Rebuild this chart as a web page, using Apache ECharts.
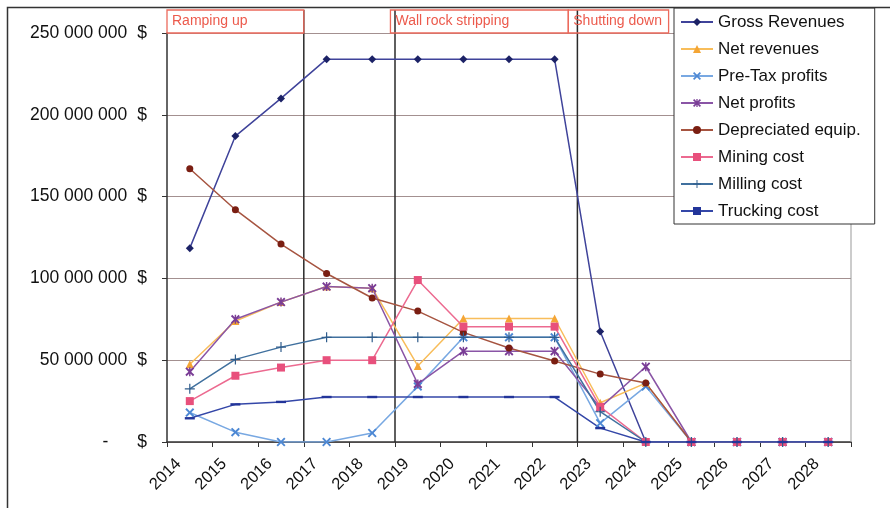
<!DOCTYPE html>
<html>
<head>
<meta charset="utf-8">
<script src="https://cdn.jsdelivr.net/npm/echarts@6/dist/echarts.min.js"></script>
<style>html,body{margin:0;padding:0;background:#fff;}#c{width:890px;height:508px;}</style>
</head>
<body>
<div id="c"></div>
<script>
var years = ['2014','2015','2016','2017','2018','2019','2020','2021','2022','2023','2024','2025','2026','2027','2028'];
var grossRevenues = [118500000,187000000,210000000,234000000,234000000,234000000,234000000,234000000,234000000,67500000,0,0,0,0,0];
var netRevenues   = [47500000,74000000,85500000,95000000,94000000,46500000,75500000,75500000,75500000,24000000,36000000,0,0,0,0];
var preTaxProfits = [18000000,6000000,0,0,5500000,34000000,64000000,64000000,64000000,11500000,34000000,0,0,0,0];
var netProfits    = [43000000,75000000,85500000,95000000,94000000,35500000,55500000,55500000,55500000,21000000,46000000,0,0,0,0];
var depreciatedEquip = [167000000,142000000,121000000,103000000,88000000,80000000,67000000,57500000,49500000,41500000,36000000,0,0,0,0];
var miningCost    = [25000000,40500000,45500000,50000000,50000000,99000000,70500000,70500000,70500000,21500000,0,0,0,0,0];
var millingCost   = [32500000,50500000,58000000,64000000,64000000,64000000,64000000,64000000,64000000,18500000,0,0,0,0,0];
var truckingCost  = [14500000,23000000,24500000,27500000,27500000,27500000,27500000,27500000,27500000,8500000,0,0,0,0,0];
var yTicks = [0,50000000,100000000,150000000,200000000,250000000];
var phaseLabels = ['Ramping up','Wall rock stripping','Shutting down'];
var phaseBoxStart = [0, 4.9, 8.8];
var phaseBoxEnd   = [3, 8.8, 11];
var phaseLines = [3, 5, 9];

var FONT = '"Liberation Sans", Arial, sans-serif';
var SYM_X = 'path://M0,1.5L1.5,0L5,3.5L8.5,0L10,1.5L6.5,5L10,8.5L8.5,10L5,6.5L1.5,10L0,8.5L3.5,5Z';
var SYM_STAR = 'path://M0,1.5L1.5,0L4.2,2.7V0H5.8V2.7L8.5,0L10,1.5L6.5,5L10,8.5L8.5,10L5.8,7.3V10H4.2V7.3L1.5,10L0,8.5L3.5,5Z';
var SYM_PLUS = 'path://M4.4,0H5.6V4.4H10V5.6H5.6V10H4.4V5.6H0V4.4H4.4Z';
var SYM_DASH = 'path://M0,0H10V2.4H0Z';

function fmtNum(v){
  var s = String(Math.round(v));
  return s.replace(/\B(?=(\d{3})+(?!\d))/g, ' ');
}

function mk(name, data, symbol, size, markColor, lineColor){
  return {
    name: name, type: 'line', data: data, symbol: symbol, symbolSize: size,
    symbolKeepAspect: true,
    showAllSymbol: true, z: 3,
    itemStyle: { color: markColor, borderWidth: 0 },
    lineStyle: { color: lineColor, width: 1.5 },
    emphasis: { disabled: true }
  };
}

var chart = echarts.init(document.getElementById('c'), null, {renderer: 'canvas'});
var option = {
  backgroundColor: '#fff',
  animation: false,
  textStyle: { fontFamily: FONT },
  grid: { left: 167, right: 39, top: 33, bottom: 66, containLabel: false },
  graphic: [{
    type: 'rect', z: 100, silent: true,
    shape: { x: 7.5, y: 7.5, width: 900, height: 600 },
    style: { fill: 'none', stroke: '#333', lineWidth: 1.5 }
  }],
  legend: {
    orient: 'vertical', left: 674, top: 8,
    data: ['Gross Revenues','Net revenues','Pre-Tax profits','Net profits','Depreciated equip.','Mining cost','Milling cost','Trucking cost'],
    backgroundColor: '#fff', borderColor: '#333', borderWidth: 1,
    padding: [5, 14, 4, 6], itemGap: 9, itemWidth: 32, itemHeight: 10,
    textStyle: { fontSize: 17, color: '#111', fontFamily: FONT, lineHeight: 18 },
    selectedMode: false
  },
  xAxis: {
    type: 'category', data: years, boundaryGap: true,
    axisLine: { lineStyle: { color: '#333', width: 1.5 } },
    axisTick: { show: true, length: 5, lineStyle: { color: '#333' } },
    axisLabel: { interval: 0, rotate: 45, fontSize: 16.5, color: '#111', margin: 8, padding: [0, 16, 0, 0], fontFamily: FONT },
    splitLine: { show: false }
  },
  yAxis: {
    type: 'value', min: 0, max: 250000000, interval: 50000000,
    axisLine: { show: true, lineStyle: { color: '#333', width: 1.5 } },
    axisTick: { show: true, length: 5, lineStyle: { color: '#333' } },
    splitLine: { show: true, lineStyle: { color: '#a39090', width: 1.2 } },
    axisLabel: {
      margin: 20, fontSize: 17.5, color: '#111', fontFamily: FONT,
      formatter: function(v){
        if (v === 0) return '{z|-}{d|$}';
        return '{n|' + fmtNum(v) + '}{d|$}';
      },
      rich: {
        n: { fontSize: 17.5, color: '#111', fontFamily: FONT },
        z: { fontSize: 17.5, color: '#111', fontFamily: FONT, padding: [0, 19, 0, 0] },
        d: { fontSize: 17.5, color: '#111', fontFamily: FONT, padding: [0, 0, 0, 10] }
      }
    }
  },
  series: [
    {
      type: 'custom', name: 'phases', z: 1, silent: true, clip: false,
      data: [[0, 0]],
      renderItem: function(params, api){
        var bw = api.size([1, 0])[0];
        var x0 = api.coord([0, 0])[0] - bw / 2;
        var yZero = api.coord([0, 0])[1];
        var yTop = api.coord([0, 250000000])[1];
        var boxH = 23;
        var children = [];
        for (var i = 0; i < phaseLines.length; i++) {
          var x = x0 + phaseLines[i] * bw;
          children.push({ type: 'line', shape: { x1: x, y1: yTop - boxH, x2: x, y2: yZero },
            style: { stroke: '#2a2a2a', lineWidth: 1.5 } });
        }
        var xr = x0 + years.length * bw;
        children.push({ type: 'line', shape: { x1: xr, y1: yTop, x2: xr, y2: yZero },
          style: { stroke: '#999', lineWidth: 1 } });
        for (var j = 0; j < phaseLabels.length; j++) {
          var bx = x0 + phaseBoxStart[j] * bw;
          var ex = x0 + phaseBoxEnd[j] * bw;
          children.push({ type: 'rect', shape: { x: bx, y: yTop - boxH, width: ex - bx, height: boxH },
            style: { fill: 'rgba(255,255,255,0)', stroke: '#ec6a5c', lineWidth: 1.3 } });
          children.push({ type: 'text', style: { text: phaseLabels[j], x: bx + 5, y: yTop - boxH / 2,
            verticalAlign: 'middle', align: 'left', fill: '#ec5a4c', font: '14px ' + FONT } });
        }
        return { type: 'group', children: children };
      }
    },
    mk('Gross Revenues', grossRevenues, 'diamond', 8, '#1c2266', '#3f439a'),
    mk('Net revenues', netRevenues, 'triangle', 8, '#f4a535', '#f8bd5a'),
    mk('Pre-Tax profits', preTaxProfits, SYM_X, 9, '#4d88d4', '#78a8e2'),
    mk('Net profits', netProfits, SYM_STAR, 9, '#7a3d96', '#8a55a6'),
    mk('Depreciated equip.', depreciatedEquip, 'circle', 7, '#7a1e12', '#a65440'),
    mk('Mining cost', miningCost, 'rect', 8, '#e8507c', '#ec6a90'),
    mk('Milling cost', millingCost, SYM_PLUS, 10, '#305d8c', '#40709e'),
    mk('Trucking cost', truckingCost, SYM_DASH, 10, '#23359a', '#3447a8')
  ]
};
chart.setOption(option);
</script>
</body>
</html>
